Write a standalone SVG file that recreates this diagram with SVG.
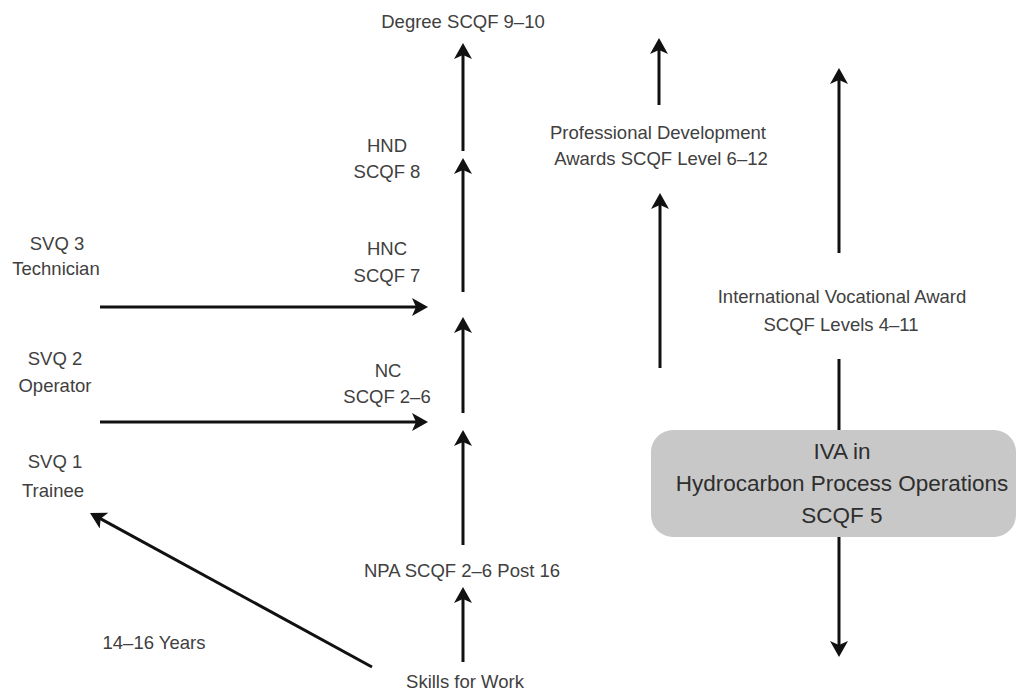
<svg xmlns="http://www.w3.org/2000/svg" width="1018" height="693" viewBox="0 0 1018 693">
<style>
  .t { font-family: "Liberation Sans", Arial, sans-serif; font-size: 18.5px; fill: #404040; text-anchor: middle; }
  .b { font-family: "Liberation Sans", Arial, sans-serif; font-size: 22.5px; fill: #2e2e2e; text-anchor: middle; }
  .c { stroke: #111; stroke-width: 3; fill: none; }
  .a { marker-end: url(#ah); }
</style>
<defs>
  <marker id="ah" viewBox="0 0 16 18" refX="10" refY="9" markerWidth="16" markerHeight="18" markerUnits="userSpaceOnUse" orient="auto">
    <path d="M0,0 L16,9 L0,18 L4,9 z" fill="#111"/>
  </marker>
</defs>
<rect width="1018" height="693" fill="#ffffff"/>

<g id="connectors">
  <line class="c a" x1="463" y1="151" x2="463" y2="49"/>
  <line class="c a" x1="463" y1="292" x2="463" y2="164"/>
  <line class="c a" x1="463" y1="413" x2="463" y2="323"/>
  <line class="c a" x1="463" y1="545" x2="463" y2="436"/>
  <line class="c a" x1="463" y1="662" x2="463" y2="593"/>
  <line class="c a" x1="659" y1="105" x2="659" y2="44"/>
  <line class="c a" x1="660" y1="368" x2="660" y2="199"/>
  <line class="c a" x1="839" y1="253" x2="839" y2="74"/>
  <line class="c" x1="839" y1="359" x2="839" y2="430"/>
  <line class="c a" x1="839" y1="537" x2="839" y2="651"/>
  <line class="c a" x1="100" y1="307" x2="422" y2="307"/>
  <line class="c a" x1="100" y1="422" x2="422" y2="422"/>
  <line class="c a" x1="372" y1="667" x2="95.3" y2="515.9"/>
</g>

<g id="degree"><text class="t" x="463" y="28">Degree SCQF 9–10</text></g>
<g id="hnd"><text class="t" x="387" y="152">HND</text><text class="t" x="387" y="178">SCQF 8</text></g>
<g id="hnc"><text class="t" x="387" y="255">HNC</text><text class="t" x="387" y="282">SCQF 7</text></g>
<g id="nc"><text class="t" x="388" y="377">NC</text><text class="t" x="387" y="403">SCQF 2–6</text></g>
<g id="svq3"><text class="t" x="57" y="250">SVQ 3</text><text class="t" x="56" y="275">Technician</text></g>
<g id="svq2"><text class="t" x="55" y="365">SVQ 2</text><text class="t" x="55" y="392">Operator</text></g>
<g id="svq1"><text class="t" x="55" y="468">SVQ 1</text><text class="t" x="53" y="497">Trainee</text></g>
<g id="npa"><text class="t" x="462" y="577">NPA SCQF 2–6 Post 16</text></g>
<g id="skills"><text class="t" x="465" y="688">Skills for Work</text></g>
<g id="years"><text class="t" x="154" y="649">14–16 Years</text></g>
<g id="pda"><text class="t" x="658" y="139">Professional Development</text><text class="t" x="661" y="165">Awards SCQF Level 6–12</text></g>
<g id="iva-award"><text class="t" x="842" y="303">International Vocational Award</text><text class="t" x="841" y="331">SCQF Levels 4–11</text></g>
<g id="iva-box">
  <rect x="651" y="430" width="365" height="107" rx="22" ry="22" fill="#c8c8c8"/>
  <text class="b" x="842" y="459">IVA in</text>
  <text class="b" x="842" y="491">Hydrocarbon Process Operations</text>
  <text class="b" x="842" y="523">SCQF 5</text>
</g>
</svg>
